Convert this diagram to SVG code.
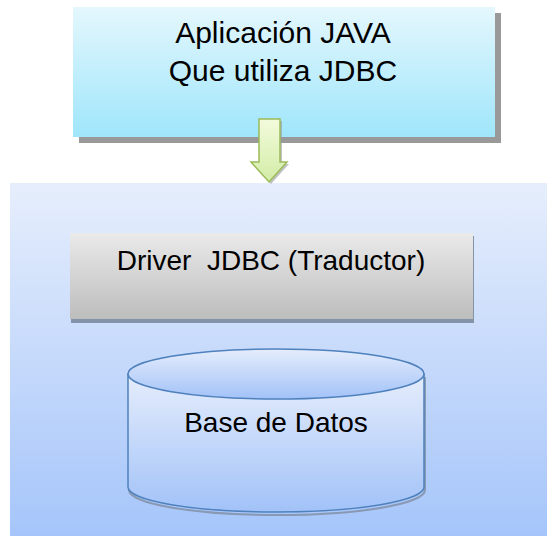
<svg xmlns="http://www.w3.org/2000/svg" width="547" height="548" viewBox="0 0 547 548">
<defs>
<linearGradient id="gTop" x1="0" y1="0" x2="0" y2="1"><stop offset="0" stop-color="#e4f7fd"/><stop offset="1" stop-color="#9fe6fb"/></linearGradient>
<linearGradient id="gBig" x1="0" y1="0" x2="0" y2="1"><stop offset="0" stop-color="#e6eefc"/><stop offset="1" stop-color="#a5c5fa"/></linearGradient>
<linearGradient id="gDrv" x1="0" y1="0" x2="0" y2="1"><stop offset="0" stop-color="#eaeaea"/><stop offset="1" stop-color="#bdbdbd"/></linearGradient>
<linearGradient id="gCyl" x1="0" y1="0" x2="0" y2="1"><stop offset="0" stop-color="#e5edfc"/><stop offset="1" stop-color="#a2c2f8"/></linearGradient>
<linearGradient id="gArr" x1="0" y1="0" x2="0" y2="1"><stop offset="0" stop-color="#f3fbdc"/><stop offset="1" stop-color="#d2eca6"/></linearGradient>
</defs>
<style>
text{fill:#000;text-anchor:middle;font-family:"Liberation Sans",Arial,sans-serif}
.t{font-size:30px}
.d{font-size:28px}
</style>
<rect x="10" y="183" width="537" height="353" fill="url(#gBig)"/>
<g id="app">
<rect x="79" y="13" width="422" height="130" fill="#999"/>
<rect x="73" y="7" width="422" height="130" fill="url(#gTop)"/>
<text class="t" x="283" y="43">Aplicación JAVA</text>
<text class="t" x="283" y="81">Que utiliza JDBC</text>
</g>
<g id="connectors">
<path d="M261,121 H282 V164 H289 L271,184 L253,164 H261 Z" fill="#9a9a9a" opacity="0.6"/>
<path d="M259,119 H280 V162 H287 L269,182 L251,162 H259 Z" fill="url(#gArr)" stroke="#9bbb59" stroke-width="1.5" stroke-linejoin="miter"/>
</g>
<g id="driver">
<rect x="71" y="236" width="403" height="87" fill="#8593a8"/>
<rect x="70" y="233" width="403" height="86" fill="url(#gDrv)"/>
<text class="d" x="271" y="270" xml:space="preserve">Driver  JDBC (Traductor)</text>
</g>
<g id="db">
<path d="M128,374 V487 A148,25 0 0 0 424,487 V374" fill="none" stroke="#7a8494" stroke-width="2" transform="translate(1,3)" opacity="0.7"/>
<path d="M128,374 V487 A148,25 0 0 0 424,487 V374 Z" fill="url(#gCyl)" stroke="#4f81bd" stroke-width="1.5"/>
<ellipse cx="276" cy="374" rx="148" ry="25" fill="url(#gCyl)" stroke="#4f81bd" stroke-width="1.5"/>
<text class="d" x="276" y="432">Base de Datos</text>
</g>
</svg>
